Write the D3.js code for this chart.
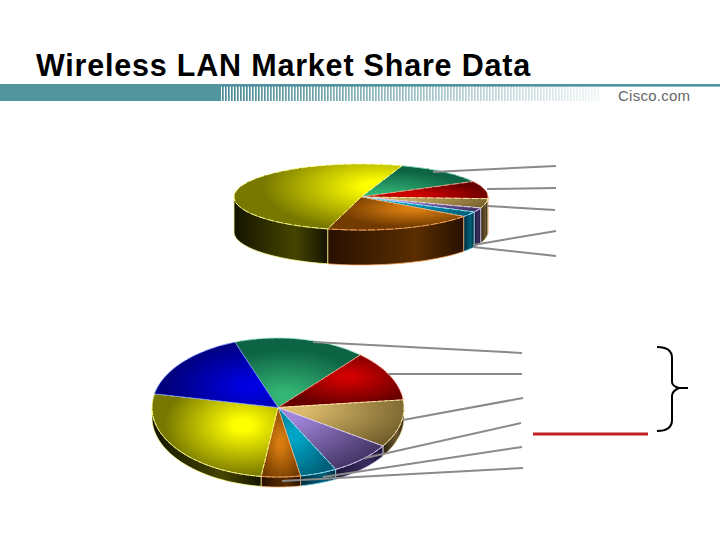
<!DOCTYPE html>
<html><head><meta charset="utf-8">
<script src="https://cdn.jsdelivr.net/npm/d3@7"></script>
<style>html,body{margin:0;padding:0;background:#fff}svg{display:block}</style>
</head><body><svg id="c" width="720" height="540" viewBox="0 0 720 540"></svg>
<script>
const titleText = "Wireless LAN Market Share Data";
const logoText = "Cisco.com";
const categories = ["green","red","tan","purple","teal","orange","yellow","blue"];
const shareTop = [12,8.6,4.6,2.1,2.5,19.2,51.0,0];
const shareBottom = [16.9,11.9,11.1,8.1,4.7,5.0,26.0,16.3];
const faceDark = {green:"#0d6444",red:"#680000",tan:"#75602c",purple:"#463668",teal:"#005f78",orange:"#723c00",yellow:"#787800",blue:"#00007c"};
const faceBright = {green:"#33b575",red:"#cf0000",tan:"#dcbc6c",purple:"#a084d8",teal:"#00a4c4",orange:"#d87c10",yellow:"#ffff00",blue:"#0000e0"};
const edge = {green:"#8fe0c0",red:"#ff9a80",tan:"#fff0b0",purple:"#e0d0ff",teal:"#90e8ff",orange:"#ffa860",yellow:"#ffff90",blue:"#7090ff"};
const wallDark = {green:"#06301f",red:"#300000",tan:"#2a2010",purple:"#1c1438",teal:"#002a3c",orange:"#281000",yellow:"#141400",blue:"#000040"};
const wallBright = {green:"#0d6444",red:"#6e0000",tan:"#6e5830",purple:"#3a2e60",teal:"#00607a",orange:"#5a2e00",yellow:"#454500",blue:"#00008a"};
const glowTop = {green:[.2,1,.85],red:[.4,.75,.65],tan:[0,.3,1.1],purple:[.1,.2,1],teal:[.2,.2,1],orange:[.62,.35,.55],yellow:[.85,.35,.68]};
const glowBottom = {green:[.4,.85,.68],red:[.55,.42,.55],tan:[.1,.2,1],purple:[.1,.1,1],teal:[.3,.4,.7],orange:[.5,.5,.6],yellow:[.72,.38,.62],blue:[.78,.68,.68]};
const leadersTop = [[433,172,556,166],[487,189,556,188],[487,206,555,210],[473,245,556,231],[473,247,556,256]];
const leadersBottom = [[313,342,522,353],[388,374,522,374],[403,420,523,398],[365,458,521,423],[323,477,522,447],[282,481,523,468]];

const svg = d3.select("#c");
const defs = svg.append("defs");
let uid = 0;

function drawPie(values, o, glow){
  const pie = d3.pie().sort(null).value(d=>d.v)
    .startAngle(o.start*Math.PI/180).endAngle((o.start+360)*Math.PI/180);
  const slices = pie(categories.map((c,i)=>({c,v:values[i]}))).filter(s=>s.data.v>0);
  const k = o.ry/o.rx;
  const arc = d3.arc().innerRadius(0).outerRadius(o.rx);
  const g = svg.append("g");
  const pt = (a,dy)=>[o.cx+o.rx*Math.sin(a), o.cy+dy-o.ry*Math.cos(a)];
  slices.forEach(s=>{
    const a0=Math.max(s.startAngle,Math.PI/2), a1=Math.min(s.endAngle,Math.PI*1.5);
    const pieces=[[a0,a1]];
    if(s.endAngle>Math.PI*2.5) pieces.push([Math.max(s.startAngle,Math.PI*2.5),Math.min(s.endAngle,Math.PI*3.5)]);
    pieces.forEach(([p0,p1])=>{
      if(p1<=p0) return;
      const id="w"+(uid++);
      const lg=defs.append("linearGradient").attr("id",id);
      lg.append("stop").attr("offset","0").attr("stop-color",wallDark[s.data.c]);
      lg.append("stop").attr("offset",".65").attr("stop-color",wallBright[s.data.c]);
      lg.append("stop").attr("offset","1").attr("stop-color",wallDark[s.data.c]);
      const angs=d3.range(41).map(i=>p0+(p1-p0)*i/40);
      const top=angs.map(a=>pt(a,0)), bot=angs.slice().reverse().map(a=>pt(a,o.depth));
      g.append("path").attr("d",d3.line()(top.concat(bot))+"Z")
        .attr("fill",`url(#${id})`).attr("stroke",edge[s.data.c]).attr("stroke-width",.9).attr("stroke-opacity",.85);
    });
  });
  const f=g.append("g").attr("transform",`translate(${o.cx},${o.cy}) scale(1,${k})`);
  slices.forEach(s=>{
    const id="f"+(uid++), c=s.data.c, gl=glow[c];
    const rg=defs.append("radialGradient").attr("id",id).attr("cx",gl[0]).attr("cy",gl[1]).attr("r",gl[2]);
    rg.append("stop").attr("offset","0").attr("stop-color",faceBright[c]);
    rg.append("stop").attr("offset",".12").attr("stop-color",faceBright[c]);
    rg.append("stop").attr("offset","1").attr("stop-color",faceDark[c]);
    f.append("path").attr("d",arc(s)).attr("fill",`url(#${id})`)
      .attr("stroke",edge[c]).attr("stroke-width",.9).attr("vector-effect","non-scaling-stroke")
      .attr("stroke-dasharray",o.dash);
  });
}
drawPie(shareTop,{cx:361,cy:197,rx:127,ry:33,depth:35,start:18.8,dash:"7 2"},glowTop);
drawPie(shareBottom,{cx:278,cy:407.5,rx:126,ry:69.5,depth:10,start:340,dash:"5 1"},glowBottom);

svg.append("g").selectAll("line").data(leadersTop.concat(leadersBottom)).join("line")
  .attr("x1",d=>d[0]).attr("y1",d=>d[1]).attr("x2",d=>d[2]).attr("y2",d=>d[3])
  .attr("stroke","#8a8a8a").attr("stroke-width",2);

svg.append("line").attr("x1",533).attr("x2",648).attr("y1",434).attr("y2",434)
  .attr("stroke","#c21f24").attr("stroke-width",3);
svg.append("path").attr("d","M657,347 Q672,347 672,358 L672,382 Q672,386 679,388 L688,388 L679,388 Q672,391 672,396 L672,420 Q672,431 657,431")
  .attr("fill","none").attr("stroke","#000").attr("stroke-width",2);

svg.append("rect").attr("x",0).attr("y",84).attr("width",720).attr("height",2.6).attr("fill","#4f939e");
svg.append("rect").attr("x",0).attr("y",84).attr("width",221).attr("height",17).attr("fill","#52959f");
const fade=d3.scaleLinear().domain([222,600]).range([1,0.08]);
svg.append("g").selectAll("rect").data(d3.range(222,600,3)).join("rect")
  .attr("x",d=>d).attr("y",86).attr("width",1.7).attr("height",15)
  .attr("fill","#4a8a96").attr("opacity",d=>fade(d));
svg.append("text").attr("x",36).attr("y",75.5).text(titleText)
  .attr("font-family","Liberation Sans, Arial, sans-serif").attr("font-weight","bold").attr("font-size",30.5)
  .attr("letter-spacing",.8).attr("fill","#000");
svg.append("text").attr("x",618).attr("y",101).text(logoText)
  .attr("font-family","Liberation Sans, Arial, sans-serif").attr("font-size",15).attr("letter-spacing",.25).attr("fill","#666");
</script></body></html>
